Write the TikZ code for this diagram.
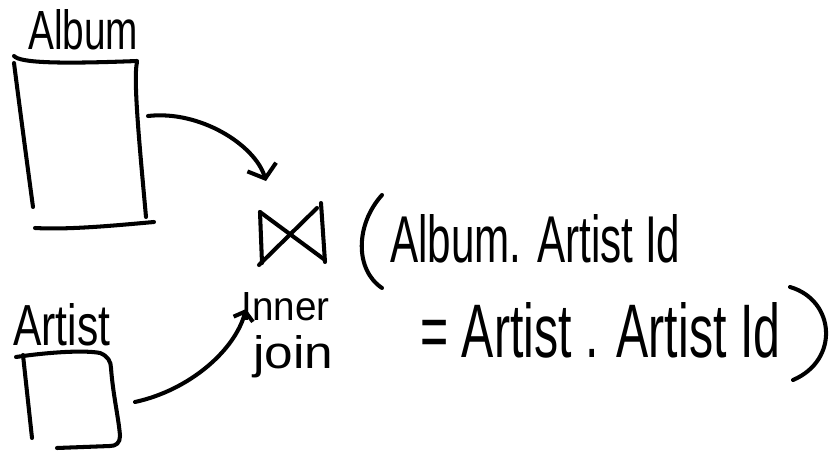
\documentclass[tikz,border=0pt]{standalone}
\usepackage{fontspec}
\setmainfont{Liberation Sans}
\usepackage{graphicx}
\usetikzlibrary{arrows.meta}
\tikzset{
  pen/.style={line width=2.3pt, line cap=round, line join=round},
  hand/.style={inner sep=0pt, anchor=base west, font=\fontsize{30}{30}\selectfont},
}
\newcommand{\fitText}[3]{\resizebox{#1}{#2}{#3}}
\begin{document}
\begin{tikzpicture}[x=0.02cm, y=-0.02cm]
\useasboundingbox (0,0) rectangle (836,453);
% labels
\node[hand] (albumlbl) at (28,50) {\fitText{2.2cm}{0.8cm}{Album}};
\node[hand] (artistlbl) at (13,345) {\fitText{1.94cm}{0.84cm}{Artist}};
\node[hand] (inner) at (241,320) {\fitText{1.76cm}{0.56cm}{Inner}};
\node[hand] (join) at (253,368) {\fitText{1.6cm}{0.66cm}{join}};
\node[hand] (cond1) at (390,262) {\fitText{5.8cm}{0.96cm}{Album. Artist Id}};
\node[hand] (cond2) at (420,357) {\fitText{7.2cm}{1.1cm}{= Artist . Artist Id}};
% Album box
\draw[pen] (14,56) .. controls (20,63) and (60,64) .. (137,61);
\draw[pen] (14,63) .. controls (20,110) and (28,170) .. (33,207);
\draw[pen] (137,62) .. controls (133,80) and (140,150) .. (146,217);
\draw[pen] (35,228) .. controls (70,230) and (120,225) .. (154,222);
% Artist box
\draw[pen] (23,355) -- (32,438);
\draw[pen] (16,357) .. controls (50,352) and (85,350) .. (100,353) .. controls (108,356) and (111,362) .. (111,368) .. controls (113,395) and (119,420) .. (120,436) .. controls (120,443) and (116,446) .. (110,446) -- (57,448);
% bowtie
\draw[pen] (260,212) -- (262,263);
\draw[pen] (260,212) -- (325,260);
\draw[pen] (259,265) -- (317,208);
\draw[pen] (321,203) -- (325,262);
% parentheses
\draw[pen] (382,195) .. controls (355,225) and (355,270) .. (382,288);
\draw[pen] (790,287) .. controls (835,300) and (840,360) .. (793,380);
% connectors
\coordinate (albumout) at (148,116);
\coordinate (bowin) at (266,181);
\coordinate (artistout) at (135,402);
\coordinate (joinin) at (246,309);
\draw[pen, -{Straight Barb[length=2.4mm, width=6mm]}] (albumout) .. controls (200,110) and (255,145) .. (bowin);
\draw[pen, -{Straight Barb[length=1.6mm, width=4mm]}] (artistout) .. controls (190,390) and (235,350) .. (joinin);
\end{tikzpicture}
\end{document}
